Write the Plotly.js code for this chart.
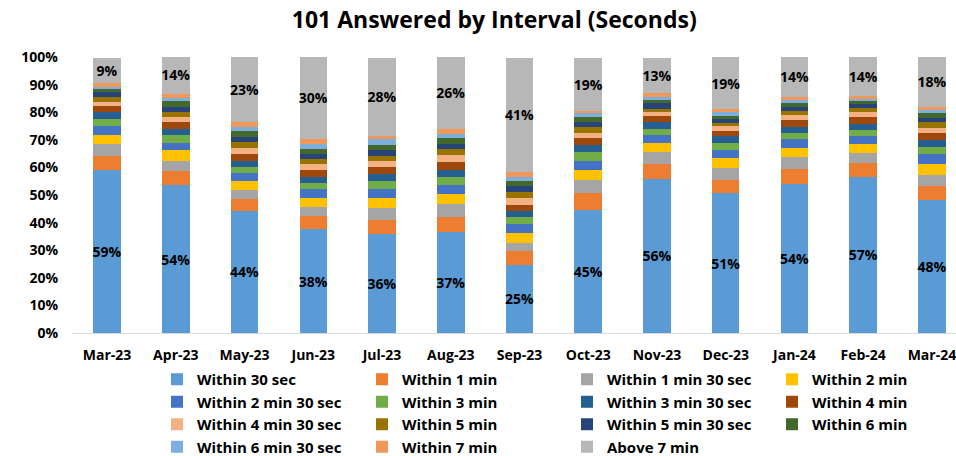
<!DOCTYPE html>
<html>
<head>
<meta charset="utf-8">
<script src="https://cdn.plot.ly/plotly-3.0.1.min.js"></script>
<style>html,body{margin:0;padding:0;background:#fff;}#chart{width:956px;height:456px;}</style>
</head>
<body>
<div id="chart"></div>
<script>
const months = ["Mar-23","Apr-23","May-23","Jun-23","Jul-23","Aug-23","Sep-23","Oct-23","Nov-23","Dec-23","Jan-24","Feb-24","Mar-24"];

const within30s   = [59.2, 53.6, 44.3, 37.6, 36.0, 36.6, 24.8, 44.7, 55.8, 50.6, 54.0, 56.6, 48.1];
const within1m    = [5.1, 5.0, 4.1, 4.8, 5.1, 5.5, 4.8, 6.0, 5.6, 4.9, 5.6, 5.0, 5.1];
const within1m30  = [4.0, 3.9, 3.3, 3.1, 4.1, 4.5, 3.0, 4.6, 4.1, 4.2, 4.1, 3.7, 4.2];
const within2m    = [3.4, 3.7, 3.3, 3.4, 3.7, 3.9, 3.6, 3.9, 3.4, 3.6, 3.4, 3.1, 4.0];
const within2m30  = [3.3, 2.7, 2.8, 3.1, 3.4, 3.1, 3.4, 3.3, 2.8, 2.9, 3.3, 2.8, 3.3];
const within3m    = [2.4, 2.8, 2.3, 2.3, 2.7, 2.9, 2.4, 3.1, 2.3, 2.8, 2.2, 2.4, 2.7];
const within3m30  = [2.7, 2.3, 2.4, 2.4, 2.7, 2.7, 2.3, 2.4, 2.4, 2.2, 2.2, 2.3, 2.5];
const within4m    = [2.0, 2.4, 2.2, 2.5, 2.4, 2.8, 2.2, 2.7, 2.2, 2.0, 2.4, 2.4, 2.7];
const within4m30  = [1.7, 1.8, 2.4, 2.0, 2.4, 2.4, 2.4, 1.8, 1.4, 1.8, 1.8, 1.8, 1.8];
const within5m    = [1.8, 1.9, 2.2, 1.8, 1.8, 2.2, 2.3, 2.0, 1.3, 1.2, 1.4, 1.6, 2.0];
const within5m30  = [1.7, 1.8, 1.8, 1.8, 1.9, 1.8, 1.9, 1.8, 2.0, 1.2, 1.6, 1.2, 1.6];
const within6m    = [1.0, 2.0, 2.0, 1.8, 2.0, 2.4, 1.8, 1.9, 1.0, 1.4, 1.2, 1.0, 1.7];
const within6m30  = [1.0, 1.2, 1.7, 1.8, 2.0, 1.4, 1.7, 1.4, 1.2, 1.2, 1.4, 0.8, 1.0];
const within7m    = [1.2, 1.6, 1.6, 2.0, 1.3, 1.8, 1.9, 1.0, 1.4, 1.0, 1.0, 1.0, 1.3];
const above7m     = [9.3, 13.8, 23.6, 29.6, 28.3, 26.0, 41.3, 19.2, 12.9, 19.0, 14.4, 14.3, 18.0];

const labels30s   = [59, 54, 44, 38, 36, 37, 25, 45, 56, 51, 54, 57, 48];
const labelsAbove = [9, 14, 23, 30, 28, 26, 41, 19, 13, 19, 14, 14, 18];

const seriesNames = ["Within 30 sec","Within 1 min","Within 1 min 30 sec","Within 2 min","Within 2 min 30 sec","Within 3 min","Within 3 min 30 sec","Within 4 min","Within 4 min 30 sec","Within 5 min","Within 5 min 30 sec","Within 6 min","Within 6 min 30 sec","Within 7 min","Above 7 min"];
const seriesValues = [within30s, within1m, within1m30, within2m, within2m30, within3m, within3m30, within4m, within4m30, within5m, within5m30, within6m, within6m30, within7m, above7m];
const seriesColors = ["#5B9BD5","#ED7D31","#A5A5A5","#FFC000","#4472C4","#70AD47","#255E91","#9E480E","#F4B183","#997300","#264478","#43682B","#7CAFDD","#F1975A","#B7B7B7"];
const seriesLabels = {0: labels30s, 14: labelsAbove};

const FONT = "Open Sans, DejaVu Sans, sans-serif";

const traces = seriesNames.map((name, i) => {
  const t = {
    type: "bar",
    name: name,
    x: months,
    y: seriesValues[i],
    marker: {color: seriesColors[i], line: {width: 0}},
    hoverinfo: "skip"
  };
  if (seriesLabels[i]) {
    t.text = seriesLabels[i].map(v => v + "%");
    t.textposition = "inside";
    t.insidetextanchor = "middle";
    t.constraintext = "none";
    t.textangle = 0;
    t.textfont = {family: FONT, size: 14, color: "#000", weight: "bold"};
  } else {
    t.textposition = "none";
  }
  return t;
});

const layout = {
  width: 956,
  height: 456,
  paper_bgcolor: "#fff",
  plot_bgcolor: "#fff",
  barmode: "stack",
  bargap: 0.6,
  margin: {l: 72, r: 0, t: 57, b: 123, autoexpand: false},
  font: {family: FONT, color: "#000", size: 14, weight: "bold"},
  title: {
    text: "<b>101 Answered by Interval (Seconds)</b>",
    font: {family: FONT, size: 23, color: "#000"},
    x: 0.517, xref: "container", xanchor: "center",
    y: 1 - 20/456, yref: "container", yanchor: "middle"
  },
  xaxis: {
    type: "category",
    range: [-0.51, 12.35],
    showgrid: false,
    showline: true,
    linecolor: "#D9D9D9",
    linewidth: 1,
    ticks: "",
    ticklabelstandoff: 9,
    tickfont: {family: FONT, size: 14, color: "#000", weight: "bold"},
    fixedrange: true
  },
  yaxis: {
    range: [0, 100],
    dtick: 10,
    ticksuffix: "%",
    showgrid: false,
    zeroline: false,
    showline: false,
    ticks: "",
    ticklabelstandoff: 13,
    tickfont: {family: FONT, size: 14, color: "#000", weight: "bold"},
    fixedrange: true
  },
  showlegend: true,
  legend: {
    orientation: "h",
    traceorder: "normal",
    xref: "paper", yref: "container",
    x: (157 - 72) / 884, xanchor: "left",
    y: 1 - 363/456, yanchor: "top",
    entrywidth: 160, entrywidthmode: "pixels",
    font: {family: FONT, size: 15, color: "#000", weight: "bold"},
    bgcolor: "rgba(0,0,0,0)"
  }
};

Plotly.newPlot("chart", traces, layout, {displayModeBar: false, staticPlot: true});
</script>
</body>
</html>
